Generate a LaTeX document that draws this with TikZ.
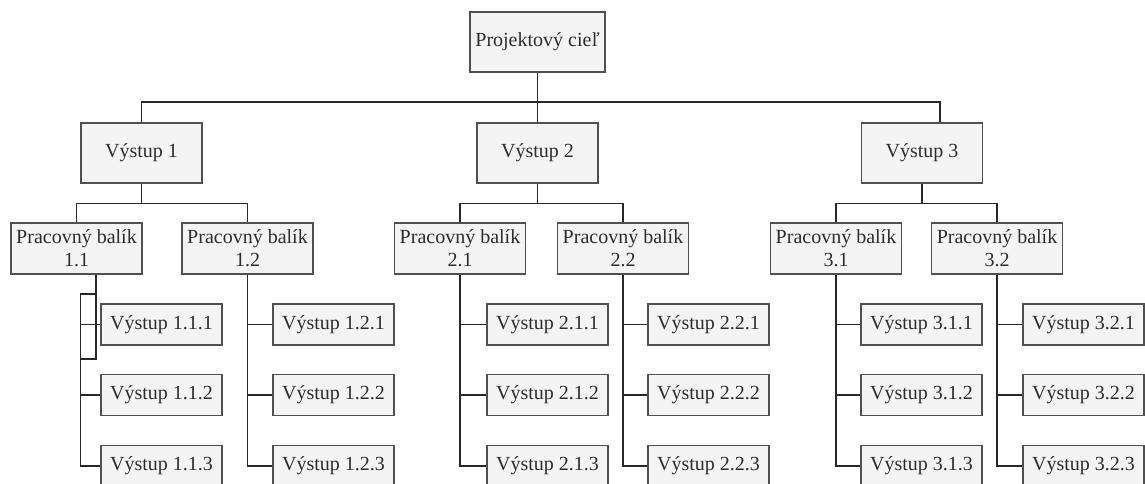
\documentclass[tikz,border=0pt]{standalone}
\usepackage{fontspec}
\setmainfont{Liberation Serif}
\usetikzlibrary{calc}
\definecolor{boxfill}{RGB}{244,244,244}
\definecolor{boxline}{RGB}{80,80,80}
\definecolor{wire}{RGB}{40,40,40}
\definecolor{ink}{RGB}{45,45,45}
\begin{document}
\begin{tikzpicture}[x=1pt,y=-1pt,
  box/.style={draw=boxline,fill=boxfill,line width=1.3pt,text=ink,
    inner sep=0pt,align=center,font=\fontsize{20}{23}\selectfont},
  topbox/.style={box,minimum width=135pt,minimum height=60pt},
  outbox/.style={box,minimum width=121pt,minimum height=60pt},
  pkgbox/.style={box,minimum width=131pt,minimum height=51pt},
  leafbox/.style={box,minimum width=121pt,minimum height=41pt},
  link/.style={draw=wire,line width=1.1pt}]
\useasboundingbox (0,0) rectangle (1145,484);
\clip (0,0) rectangle (1145,484);

% top level
\node[topbox] (root) at (537.5,42) {Projektový cieľ};

% deliverables
\node[outbox] (v1) at (141.5,153) {Výstup 1};
\node[outbox] (v2) at (537.5,153) {Výstup 2};
\node[outbox] (v3) at (922,153)   {Výstup 3};

% work packages
\node[pkgbox] (w11) at (76.5,248.5)  {Pracovný balík\\1.1};
\node[pkgbox] (w12) at (247.5,248.5) {Pracovný balík\\1.2};
\node[pkgbox] (w21) at (460,248.5)   {Pracovný balík\\2.1};
\node[pkgbox] (w22) at (623,248.5)   {Pracovný balík\\2.2};
\node[pkgbox] (w31) at (836,248.5)   {Pracovný balík\\3.1};
\node[pkgbox] (w32) at (997,248.5)   {Pracovný balík\\3.2};

% leaf deliverables
\foreach \g/\a/\b/\x in {11/1/1/161.5,12/1/2/333.5,21/2/1/547.5,22/2/2/708.5,31/3/1/921.5,32/3/2/1083.5}{
  \node[leafbox] (l\g1) at (\x,324.5) {Výstup \a.\b.1};
  \node[leafbox] (l\g2) at (\x,395)   {Výstup \a.\b.2};
  \node[leafbox] (l\g3) at (\x,466)   {Výstup \a.\b.3};
}

% root to deliverables
\coordinate (b0) at (537.5,102);
\coordinate (b3) at (940,102);
\draw[link] (root.south) -- (b0) -- (v2.north);
\draw[link] (v1.north) -- (v1.north |- b0) -- (b3) -- (b3 |- v3.north);

% deliverables to work packages
\foreach \v/\a/\b in {v1/w11/w12,v2/w21/w22,v3/w31/w32}{
  \draw[link] (\v.south) -- ++(0,20) coordinate (c\v);
  \draw[link] (\a.north) |- (c\v) -| (\b.north);
}

% work packages to leaves (centred stems)
\foreach \w in {12,21,22,31,32}{
  \draw[link] (w\w.south) -- (w\w.south |- l\w3.west) -- (l\w3.west);
  \draw[link] (w\w.south |- l\w1.west) -- (l\w1.west);
  \draw[link] (w\w.south |- l\w2.west) -- (l\w2.west);
}

% work package 1.1: offset stem with bracket
\coordinate (s11) at ($(w11.south)+(19.5,0)$);
\coordinate (r11) at ($(l111.west)+(-20,0)$);
\draw[link] (s11) -- (s11 |- 0,359) -- (r11 |- 0,359);
\draw[link] (s11 |- 0,294) -- (r11 |- 0,294) -- (r11 |- l113.west) -- (l113.west);
\draw[link] (r11) -- (l111.west);
\draw[link] (r11 |- l112.west) -- (l112.west);
\end{tikzpicture}
\end{document}
